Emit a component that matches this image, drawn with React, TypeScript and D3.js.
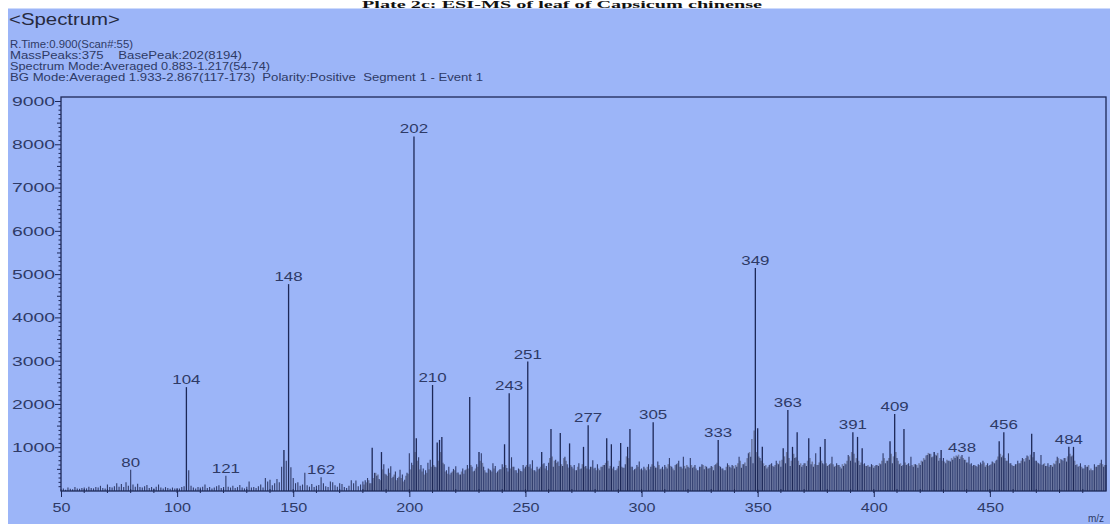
import React, { useRef, useEffect } from 'react';
import * as d3 from 'd3';

// Mass spectrum. Intensity for each integer m/z from 50 to 500.
const peakStartMz = 50;
const peakIntensity = [
  40, 60, 30, 80, 50, 40, 90, 60, 50, 70,
  80, 60, 100, 70, 60, 90, 80, 120, 70, 60,
  150, 90, 80, 110, 180, 100, 160, 90, 200, 120,
  490, 150, 100, 170, 90, 80, 110, 140, 70, 90,
  60, 100, 150, 80, 60, 90, 70, 50, 80, 60,
  70, 60, 90, 110, 2400, 480, 120, 80, 60, 90,
  80, 100, 150, 70, 90, 60, 80, 110, 130, 70,
  90, 350, 100, 80, 120, 70, 90, 140, 80, 60,
  100, 220, 80, 90, 70, 110, 150, 80, 300, 220,
  260, 130, 180, 280, 200, 560, 950, 700, 4780, 550,
  300, 180, 200, 120, 150, 420, 130, 100, 160, 90,
  120, 140, 320, 180, 110, 90, 220, 200, 130, 100,
  180, 160, 90, 70, 120, 250, 180, 240, 110, 150,
  220, 250, 300, 180, 1000, 420, 350, 280, 900, 620,
  380, 520, 570, 330, 450, 300, 490, 380, 260, 420,
  870, 650, 8194, 1220, 780, 600, 520, 480, 650, 720,
  2450, 560, 1120, 1180, 1250, 620, 480, 560, 420, 510,
  570, 430, 380, 520, 480, 600, 2170, 560, 470, 620,
  900, 870, 560, 430, 520, 480, 640, 580, 450, 500,
  620, 1080, 530, 2260, 780, 560, 480, 520, 460, 600,
  560, 2990, 620, 710, 480, 560, 520, 900, 640, 580,
  650, 1430, 560, 720, 680, 1340, 580, 790, 620, 1100,
  560, 600, 480, 640, 520, 1020, 580, 1520, 560, 710,
  540, 620, 480, 560, 600, 1220, 520, 1080, 560, 480,
  580, 1110, 540, 620, 1020, 1430, 560, 500, 600, 680,
  520, 560, 480, 620, 560, 1590, 540, 680, 500, 560,
  600, 520, 760, 560, 480, 620, 700, 560, 790, 520,
  560, 760, 540, 600, 480, 560, 620, 500, 560, 520,
  580, 480, 620, 1180, 560, 520, 480, 640, 560, 600,
  520, 560, 790, 540, 620, 580, 870, 790, 640, 5150,
  1450, 760, 1020, 580, 520, 600, 640, 560, 700, 620,
  560, 990, 640, 1870, 580, 1020, 760, 1360, 600, 560,
  640, 580, 1220, 620, 560, 870, 600, 1020, 640, 1200,
  580, 620, 790, 560, 640, 600, 520, 580, 620, 830,
  700, 1360, 660, 1250, 600, 990, 640, 580, 560, 620,
  540, 600, 580, 620, 870, 640, 700, 1150, 640, 1780,
  760, 620, 580, 1430, 600, 640, 790, 560, 620, 540,
  600, 680, 720, 830, 860, 780, 900, 820, 700, 950,
  760, 640, 700, 680, 720, 760, 800, 740, 830, 720,
  660, 790, 640, 600, 580, 620, 660, 700, 560, 640,
  600, 680, 640, 720, 1150, 780, 1360, 700, 870, 640,
  580, 620, 700, 640, 760, 680, 820, 720, 1320, 900,
  700, 640, 830, 620, 580, 640, 600, 560, 620, 790,
  640, 720, 760, 680, 1020, 800, 1020, 600, 560, 640,
  520, 600, 560, 480, 480, 620, 560, 600, 720, 560,
  600
];

// Lower grey peaks between the integer masses (m/z 180.5 .. 499.5)
const shoulderStartMz = 180.5;
const shoulderIntensity = [
  150, 200, 250, 180, 300, 420, 380, 250, 500, 400,
  350, 420, 300, 380, 250, 330, 300, 220, 350, 400,
  500, 600, 900, 700, 500, 450, 380, 420, 500, 560,
  600, 550, 700, 900, 650, 450, 400, 380, 450, 480,
  420, 380, 450, 400, 500, 520, 600, 450, 520, 560,
  700, 650, 480, 420, 500, 450, 520, 420, 480, 500,
  550, 600, 450, 520, 560, 480, 420, 500, 450, 520,
  600, 560, 520, 480, 450, 500, 560, 620, 520, 480,
  760, 800, 700, 650, 580, 620, 760, 700, 540, 600,
  520, 480, 560, 500, 620, 560, 520, 500, 560, 520,
  480, 520, 560, 600, 650, 700, 580, 520, 480, 520,
  700, 560, 540, 800, 760, 560, 480, 520, 560, 500,
  480, 520, 560, 500, 620, 580, 540, 600, 520, 500,
  560, 620, 580, 520, 600, 640, 560, 520, 580, 600,
  540, 600, 560, 520, 480, 560, 600, 580, 520, 540,
  560, 600, 650, 580, 520, 480, 560, 600, 540, 580,
  600, 640, 700, 620, 660, 760, 900, 1200, 1400, 900,
  800, 700, 640, 600, 560, 620, 580, 600, 640, 700,
  720, 800, 900, 760, 700, 860, 780, 700, 640, 600,
  640, 700, 760, 680, 620, 600, 660, 700, 620, 640,
  600, 640, 620, 580, 600, 560, 620, 640, 700, 800,
  900, 860, 760, 700, 660, 620, 580, 600, 560, 600,
  580, 600, 640, 700, 760, 700, 760, 860, 800, 900,
  700, 640, 600, 660, 620, 580, 600, 620, 600, 640,
  700, 760, 820, 880, 860, 800, 840, 880, 760, 700,
  680, 720, 700, 760, 800, 820, 840, 800, 760, 720,
  660, 620, 580, 600, 560, 600, 620, 660, 600, 580,
  620, 660, 700, 800, 860, 820, 760, 700, 640, 600,
  580, 620, 640, 700, 740, 760, 800, 840, 780, 700,
  660, 620, 600, 640, 580, 560, 600, 640, 700, 760,
  740, 700, 760, 800, 860, 820, 700, 620, 580, 560,
  520, 560, 600, 520, 480, 560, 600, 640, 620, 600
];

// Peaks that carry an m/z label
const labeledMz = [80, 104, 121, 148, 162, 202, 210, 243, 251, 277, 305, 333, 349, 363, 391, 409, 438, 456, 484];

const yTickValues = [1000, 2000, 3000, 4000, 5000, 6000, 7000, 8000, 9000];
const xTickValues = [50, 100, 150, 200, 250, 300, 350, 400, 450];

const headerLines = [
  'R.Time:0.900(Scan#:55)',
  'MassPeaks:375    BasePeak:202(8194)',
  'Spectrum Mode:Averaged 0.883-1.217(54-74)',
  'BG Mode:Averaged 1.933-2.867(117-173)  Polarity:Positive  Segment 1 - Event 1'
];
const headerWidths = [123, 232, 260, 473];

const W = 1110;
const H = 524;
const FONT = '"Liberation Sans", Arial, sans-serif';
const NAVY = '#1d2857';
const TEXT = '#2e3a66';
const BG = '#9cb5f8';

export default function App() {
  const svgRef = useRef(null);

  useEffect(() => {
    const svg = d3.select(svgRef.current);
    svg.selectAll('*').remove();

    const x = d3.scaleLinear().domain([50, 500]).range([61, 1106]);
    const y = d3.scaleLinear().domain([0, 9000]).range([491, 101.5]);
    const plotTop = 97;

    svg.append('rect').attr('width', W).attr('height', H).attr('fill', '#fff');

    // caption of the page, squeezed into the white strip above the panel
    svg.append('text')
      .attr('x', 562).attr('y', 8)
      .attr('text-anchor', 'middle')
      .attr('textLength', 400).attr('lengthAdjust', 'spacingAndGlyphs')
      .style('font-family', '"Liberation Serif", "Times New Roman", serif')
      .style('font-weight', 'bold')
      .style('font-size', '10px')
      .attr('fill', '#111')
      .text('Plate 2c: ESI-MS of leaf of Capsicum chinense');

    svg.append('rect').attr('x', 8).attr('y', 8.5).attr('width', W - 8).attr('height', H - 8.5).attr('fill', BG);

    svg.append('text')
      .attr('x', 9).attr('y', 25)
      .attr('textLength', 111).attr('lengthAdjust', 'spacingAndGlyphs')
      .style('font-family', FONT).style('font-size', '17px')
      .attr('fill', '#262a40')
      .text('<Spectrum>');

    svg.selectAll('.hdr')
      .data(headerLines)
      .enter().append('text')
      .attr('class', 'hdr')
      .attr('x', 10)
      .attr('y', (d, i) => 48 + i * 11)
      .attr('textLength', (d, i) => headerWidths[i])
      .attr('lengthAdjust', 'spacingAndGlyphs')
      .style('white-space', 'pre')
      .style('font-family', FONT).style('font-size', '11px')
      .attr('fill', TEXT)
      .text(d => d);

    // grey shoulder peaks
    const shoulders = shoulderIntensity.map((v, i) => ({ mz: shoulderStartMz + i, v }));
    svg.append('g').selectAll('line')
      .data(shoulders)
      .enter().append('line')
      .attr('x1', d => x(d.mz)).attr('x2', d => x(d.mz))
      .attr('y1', y(0)).attr('y2', d => y(d.v))
      .attr('stroke', '#6e7aa3')
      .attr('stroke-width', 1.6);

    // main peaks
    const peaks = peakIntensity.map((v, i) => ({ mz: peakStartMz + i, v }));
    svg.append('g').selectAll('line')
      .data(peaks)
      .enter().append('line')
      .attr('x1', d => x(d.mz)).attr('x2', d => x(d.mz))
      .attr('y1', y(0)).attr('y2', d => y(d.v))
      .attr('stroke', d => d.v >= 900 ? NAVY : '#26305c')
      .attr('stroke-width', d => d.v >= 900 ? 1.3 : 1.1)
      .attr('stroke-opacity', d => d.v >= 900 ? 1 : 0.9);

    // peak labels
    const labels = labeledMz.map(mz => ({ mz, v: peakIntensity[mz - peakStartMz] }));
    svg.append('g').selectAll('text')
      .data(labels)
      .enter().append('text')
      .attr('x', d => x(d.mz))
      .attr('y', d => y(d.v) - 3)
      .attr('text-anchor', 'middle')
      .attr('textLength', d => String(d.mz).length * 9.4)
      .attr('lengthAdjust', 'spacingAndGlyphs')
      .style('font-family', FONT).style('font-size', '13px')
      .attr('fill', TEXT)
      .text(d => d.mz);

    // frame
    svg.append('rect')
      .attr('x', x(50)).attr('y', plotTop)
      .attr('width', x(500) - x(50)).attr('height', y(0) - plotTop)
      .attr('fill', 'none').attr('stroke', NAVY).attr('stroke-width', 1.3);

    // y axis: minor, half and major ticks
    const yMinor = d3.range(100, 9100, 100);
    svg.append('g').selectAll('line')
      .data(yMinor)
      .enter().append('line')
      .attr('x1', x(50)).attr('x2', d => x(50) - (d % 1000 === 0 ? 6 : d % 500 === 0 ? 4 : 2.5))
      .attr('y1', d => y(d)).attr('y2', d => y(d))
      .attr('stroke', NAVY).attr('stroke-width', 1);

    const yAxis = svg.append('g')
      .attr('transform', `translate(${x(50)},0)`)
      .call(d3.axisLeft(y).tickValues(yTickValues).tickSize(0).tickPadding(6).tickFormat(d3.format('d')));
    yAxis.select('.domain').remove();
    yAxis.selectAll('text')
      .attr('textLength', 43).attr('lengthAdjust', 'spacingAndGlyphs')
      .style('font-family', FONT).style('font-size', '12px')
      .attr('fill', TEXT);

    // x axis: minor ticks every 10, major below
    const xMinor = d3.range(60, 500, 10);
    svg.append('g').selectAll('line')
      .data(xMinor)
      .enter().append('line')
      .attr('x1', d => x(d)).attr('x2', d => x(d))
      .attr('y1', y(0) - 2).attr('y2', y(0) + 2)
      .attr('stroke', NAVY).attr('stroke-width', 1);

    const xAxis = svg.append('g')
      .attr('transform', `translate(0,${y(0)})`)
      .call(d3.axisBottom(x).tickValues(xTickValues).tickSize(6).tickPadding(6).tickFormat(d3.format('d')));
    xAxis.select('.domain').remove();
    xAxis.selectAll('line').attr('stroke', NAVY);
    xAxis.selectAll('text')
      .attr('textLength', d => String(d).length * 9)
      .attr('lengthAdjust', 'spacingAndGlyphs')
      .style('font-family', FONT).style('font-size', '12px')
      .attr('fill', TEXT);

    svg.append('text')
      .attr('x', 1088).attr('y', 522)
      .style('font-family', FONT).style('font-size', '10px')
      .attr('fill', TEXT)
      .text('m/z');
  }, []);

  return (
    <svg ref={svgRef} width={W} height={H} style={{ position: 'absolute', left: 0, top: 0 }}></svg>
  );
}
